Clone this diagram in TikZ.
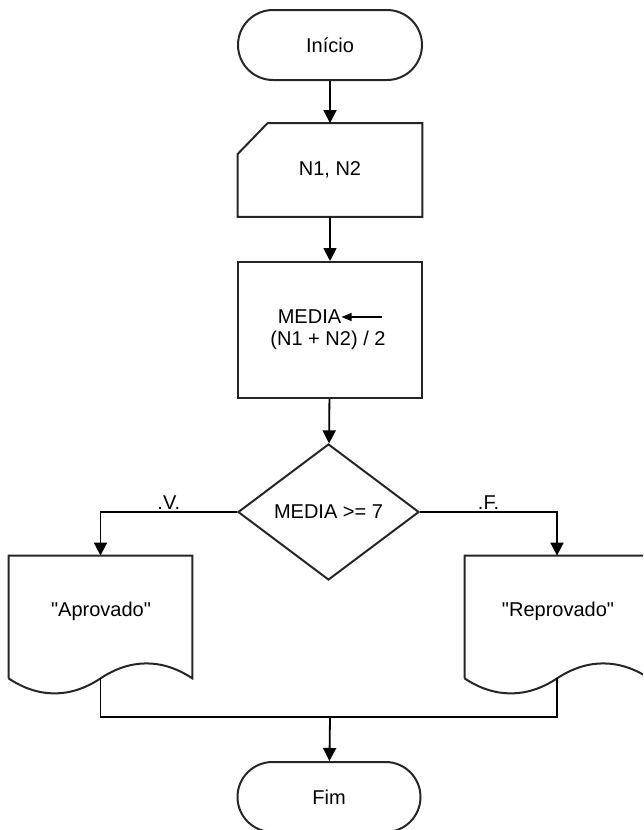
\documentclass[tikz,border=0pt]{standalone}
\usepackage{fontspec}
\setmainfont{Liberation Sans}[Ligatures=TeXOff]
\usetikzlibrary{arrows.meta,shapes.geometric,positioning}

\tikzset{
  borda/.style={draw=black!85, line width=1pt},
  terminal/.style={borda, rounded corners=17.5pt, minimum width=92pt, minimum height=35pt},
  caixa/.style={borda, minimum width=92pt, minimum height=68pt},
  losango/.style={borda, diamond, aspect=1.33, inner sep=0pt, minimum width=90.5pt, minimum height=68pt},
  area/.style={inner sep=0pt, minimum width=92pt},
  texto/.style={inner sep=0pt},
  fluxo/.style={line width=0.9pt, -{Triangle[length=6.5pt,width=6.5pt]}},
  ligacao/.style={line width=0.9pt}
}

% contorno de documento (base ondulada)
\newcommand{\docborda}[1]{%
  \draw[borda] (#1.south west) -- (#1.north west) -- (#1.north east) -- (#1.south east)
    .. controls +(-30,-20) and +(30,-20) .. (#1.south)
    .. controls +(-30,20) and +(30,20) .. (#1.south west);}

\begin{document}
\begin{tikzpicture}[x=0.5pt,y=-0.5pt,font=\fontsize{10pt}{12pt}\selectfont]
  \useasboundingbox (0,0) rectangle (643,830);
  \clip (0,0) rectangle (643,830);

  \begin{scope}
    \node[terminal] (inicio) at (330,45) {Início};
    \node[area, minimum height=46.5pt] (leitura) at (330,170) {N1, N2};
    \node[caixa] (calculo) at (330,330) {};
    \node[losango] (teste) at (328.5,512) {MEDIA >= 7};
    \node[area, minimum width=91.5pt, minimum height=61pt] (aprovado) at (100.5,617) {};
    \node[area, minimum height=61pt] (reprovado) at (557,617) {};
    \node[terminal, minimum width=91.5pt] (fim) at (329,797) {Fim};
  \end{scope}

  % entrada manual
  \draw[borda] (leitura.south west) -- (leitura.south east) -- (leitura.north east)
    -- ([xshift=15pt]leitura.north west) -- ([yshift=-15.5pt]leitura.north west) -- cycle;

  % documentos
  \docborda{aprovado}
  \docborda{reprovado}

  \begin{scope}[every node/.style={texto}]
    \node (media) at (309.5,317) {MEDIA};
    \node (expr) at (328,340) {(N1 + N2) / 2};
    \node (txtaprov) at (101,611) {"Aprovado"};
    \node (txtreprov) at (558,611) {"Reprovado"};
  \end{scope}
  \coordinate (seta) at (382,317);
  \draw[line width=0.6pt, -{Triangle[length=5pt,width=4pt]}] (seta) -- (media.east);

  \draw[fluxo] (inicio) -- (leitura);
  \draw[fluxo] (leitura) -- (calculo);
  \draw[fluxo] (calculo) -- (teste);
  \draw[fluxo] (teste.west) -| node[texto, pos=0.25, above=1pt] (rotv) {.V.} (aprovado.north);
  \draw[fluxo] (teste.east) -| node[texto, pos=0.25, above=1pt] (rotf) {.F.} (reprovado.north);

  \coordinate (juncao) at (330,717);
  \draw[ligacao] (aprovado.south) |- (juncao);
  \draw[ligacao] (reprovado.south) |- (juncao);
  \draw[fluxo] (juncao) -- (fim);
\end{tikzpicture}
\end{document}
